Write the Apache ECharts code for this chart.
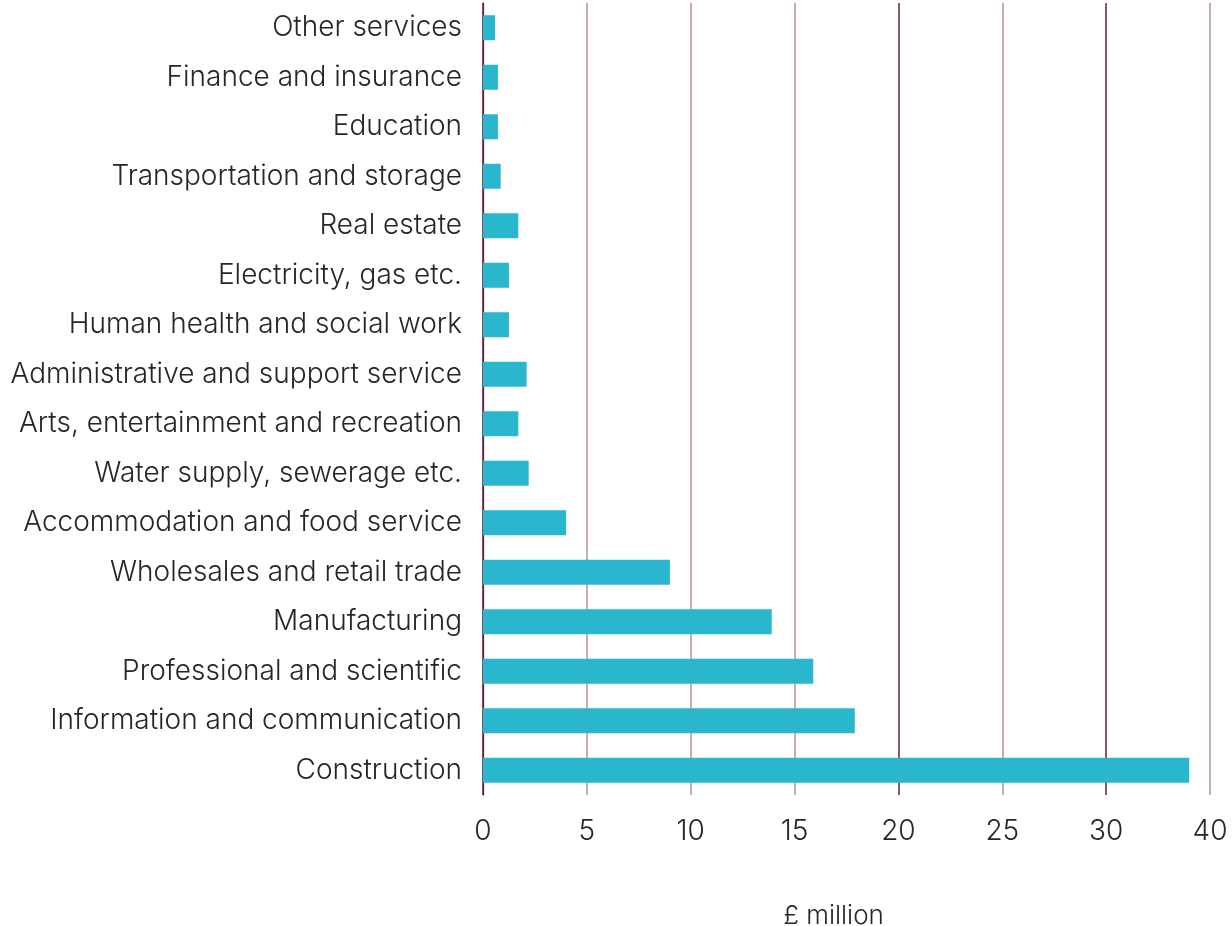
<!DOCTYPE html>
<html>
<head>
<meta charset="utf-8">
<style>
  html, body { margin: 0; padding: 0; background: #ffffff; }
  #chart { width: 1232px; height: 926px; }
</style>
<script src="https://cdn.jsdelivr.net/npm/echarts@6/dist/echarts.min.js"></script>
</head>
<body>
<div id="chart"></div>
<script>
// Sectors, listed bottom to top along the category axis
const sectors = [
  'Construction',
  'Information and communication',
  'Professional and scientific',
  'Manufacturing',
  'Wholesales and retail trade',
  'Accommodation and food service',
  'Water supply, sewerage etc.',
  'Arts, entertainment and recreation',
  'Administrative and support service',
  'Human health and social work',
  'Electricity, gas etc.',
  'Real estate',
  'Transportation and storage',
  'Education',
  'Finance and insurance',
  'Other services'
];

// Value per sector, £ million
const values = [34.0, 17.9, 15.9, 13.9, 9.0, 4.0, 2.2, 1.7, 2.1, 1.25, 1.25, 1.7, 0.85, 0.72, 0.72, 0.58];

// Labels printed under each vertical gridline, left to right
const tickLabels = ['0', '5', '10', '15', '20', '25', '30', '40'];

const axisTitle = '£ million';

const FONT = 'Inter, "Open Sans", sans-serif';
const TEXT = '#262626';
const DARK_LINE = '#62213f';
const LIGHT_LINE = '#b38fa2';

const chart = echarts.init(document.getElementById('chart'), null, { renderer: 'canvas' });

chart.setOption({
  animation: false,
  backgroundColor: '#ffffff',
  grid: {
    left: 483, right: 22, top: 3, bottom: 131,
    containLabel: false,
    outerBoundsMode: 'none'
  },
  xAxis: {
    type: 'value',
    min: 0,
    max: 35,
    interval: 5,
    axisLine: { show: false },
    axisTick: { show: false },
    splitLine: {
      show: true,
      lineStyle: {
        width: 1.5,
        color: [DARK_LINE, LIGHT_LINE, LIGHT_LINE, LIGHT_LINE, DARK_LINE, LIGHT_LINE, DARK_LINE, LIGHT_LINE]
      }
    },
    axisLabel: {
      margin: 23,
      color: TEXT,
      fontFamily: FONT,
      fontWeight: 300,
      fontSize: 28,
      formatter: (v) => tickLabels[Math.round(v / 5)]
    },
    name: axisTitle,
    nameLocation: 'middle',
    nameGap: 108,
    nameTextStyle: {
      color: TEXT,
      fontFamily: FONT,
      fontWeight: 300,
      fontSize: 26,
      padding: [0, 26, 0, 0]
    }
  },
  yAxis: {
    type: 'category',
    data: sectors,
    axisLine: { show: true, lineStyle: { color: DARK_LINE, width: 1.3 } },
    axisTick: { show: false },
    splitLine: { show: false },
    axisLabel: {
      margin: 21,
      color: TEXT,
      fontFamily: FONT,
      fontWeight: 300,
      fontSize: 28,
      padding: [2, 0, 0, 0]
    }
  },
  series: [{
    type: 'bar',
    data: values,
    barWidth: 25,
    itemStyle: { color: '#2ab7cd' },
    z: 3
  }]
});
</script>
</body>
</html>
